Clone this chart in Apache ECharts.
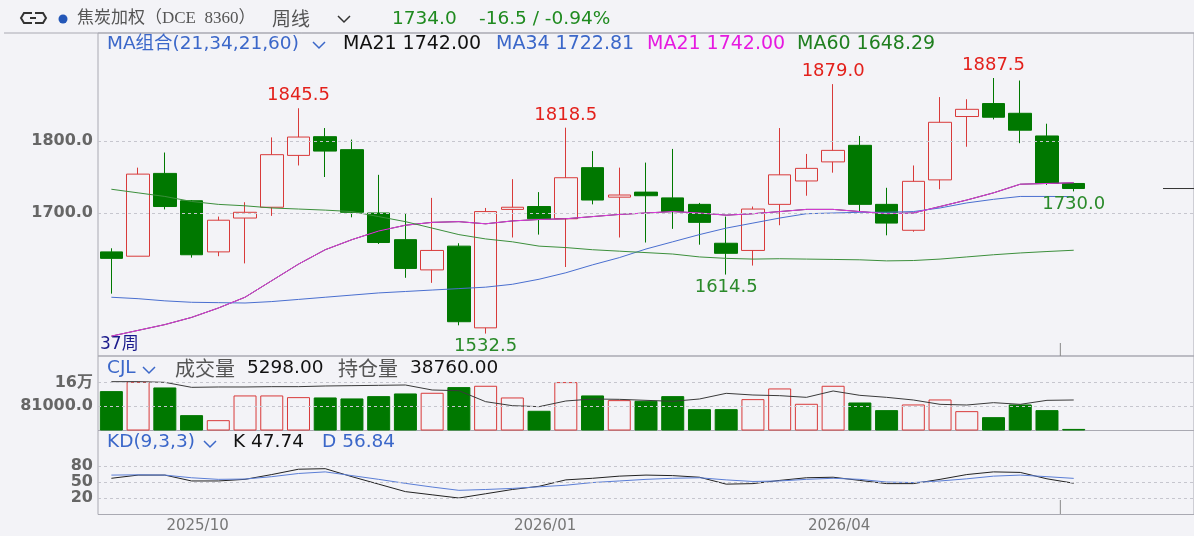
<!DOCTYPE html>
<html>
<head>
<meta charset="utf-8">
<script src="https://cdn.jsdelivr.net/npm/echarts@6/dist/echarts.min.js"></script>
<style>
  html, body { margin: 0; padding: 0; background: #f3f3f7; }
  #chart { width: 1194px; height: 536px; }
</style>
</head>
<body>
<div id="chart"></div>
<script>
// weekly bars, dated by last trading day of the week
const weeks = [
  "2025-09-19", "2025-09-26", "2025-09-30", "2025-10-10", "2025-10-17", "2025-10-24",
  "2025-10-31", "2025-11-07", "2025-11-14", "2025-11-21", "2025-11-28", "2025-12-05",
  "2025-12-12", "2025-12-19", "2025-12-26", "2025-12-31", "2026-01-09", "2026-01-16",
  "2026-01-23", "2026-01-30", "2026-02-06", "2026-02-13", "2026-02-27", "2026-03-06",
  "2026-03-13", "2026-03-20", "2026-03-27", "2026-04-03", "2026-04-10", "2026-04-17",
  "2026-04-24", "2026-04-30", "2026-05-08", "2026-05-15", "2026-05-22", "2026-05-29",
  "2026-06-05"
];
// [open, close, low, high]
const candles = [
  [1646, 1637, 1588, 1651], [1640, 1754, 1640, 1763], [1755, 1709, 1705, 1784],
  [1717, 1642, 1638, 1718], [1646, 1690, 1640, 1695], [1693, 1701, 1630, 1715],
  [1708, 1781, 1696, 1805], [1780, 1805.5, 1766, 1845.5], [1806, 1786, 1750, 1818],
  [1788, 1701, 1694, 1802], [1700, 1659, 1657, 1753], [1663, 1623, 1610, 1700],
  [1621, 1648, 1603, 1721], [1654, 1549, 1544, 1658], [1540.5, 1702, 1532.5, 1707],
  [1705, 1708, 1666, 1747], [1709, 1692, 1670, 1729], [1692, 1749, 1625, 1818.5],
  [1763, 1718, 1712, 1786], [1722, 1725, 1666, 1763], [1729, 1724, 1659, 1770],
  [1721, 1702, 1678, 1789], [1712, 1687, 1656, 1714], [1658, 1644, 1614.5, 1695],
  [1648, 1705.5, 1627, 1709], [1712, 1753, 1683, 1818], [1744.5, 1762, 1724, 1782],
  [1771, 1787, 1756, 1879], [1794, 1712, 1702, 1807], [1712, 1686, 1669, 1735],
  [1676, 1744, 1674, 1766], [1746, 1826, 1733, 1861], [1834, 1844, 1792, 1858],
  [1852, 1833, 1830, 1887.5], [1838.5, 1815, 1797, 1884], [1807, 1741, 1739, 1824],
  [1741, 1734, 1730, 1741]
];
const volumes = [
  131100, 162200, 143300, 51100, 34400, 116700, 116700, 111100, 110000, 106700,
  114400, 123300, 125600, 144400, 148900, 110000, 65600, 161100, 116700, 101100,
  98900, 114400, 71100, 71100, 104400, 140000, 88900, 148900, 93300, 67800,
  86700, 103300, 64400, 44400, 86700, 67800, 5298
];
const openInterest = [
  62050, 62050, 61200, 54860, 55280, 55280, 55700, 55700, 56550, 56970,
  57400, 57820, 51470, 50610, 36640, 31550, 30280, 37490, 40030, 39610,
  38340, 37070, 40030, 47230, 45110, 44260, 42150, 50200, 44690, 42150,
  38760, 33250, 32400, 35370, 33250, 38340, 38760
];
const ma21 = [
  1529, 1537, 1545, 1555, 1568, 1583, 1606, 1629, 1649, 1663,
  1675, 1683, 1687, 1688, 1685, 1689, 1691, 1692, 1695, 1698,
  1700, 1702, 1700, 1697, 1699, 1702, 1705, 1705, 1702, 1699,
  1700, 1709, 1718, 1728, 1740, 1741, 1742
];
const ma34 = [
  1583, 1581, 1578, 1576, 1575.5, 1575, 1577, 1580, 1583, 1586,
  1589, 1591, 1593, 1595, 1597, 1601, 1608, 1617, 1628, 1638,
  1650, 1660, 1670, 1679, 1686, 1693, 1699, 1700, 1701, 1701,
  1702, 1707, 1714, 1719, 1723, 1723, 1722.81
];
const ma60 = [
  1733, 1728, 1723, 1716, 1712, 1710, 1707, 1705.5, 1704, 1702,
  1695, 1688, 1679, 1670, 1664, 1660, 1654, 1652, 1649, 1647,
  1645, 1643, 1639, 1637, 1636, 1636.5, 1636, 1635.5, 1635, 1633.5,
  1634, 1636, 1639, 1642, 1644.5, 1646.5, 1648.29
];
const kLine = [
  57, 63, 63, 52, 52, 55, 64, 74, 75, 60,
  46, 32, 26, 20, 28, 36, 42, 54, 57, 61,
  63, 62, 59, 46, 47, 53, 58, 59, 53, 47,
  47, 55, 64, 69, 68, 56, 47.74
];
const dLine = [
  63, 63.5, 63, 58, 55, 55.6, 60, 66, 69, 62,
  55, 47.5, 40.6, 34.4, 36, 38, 41, 44, 49, 52,
  55, 57, 58, 54, 51, 52, 55, 57, 55, 50,
  49, 52, 56, 61, 63, 60, 56.84
];
const priceTicks = [1700, 1800];
const volumeTicks = [81000, 160000];
const kdTicks = [20, 50, 80];
const highMarks = [7, 17, 27, 33];
const lowMarks = [14, 23, 36];

const bg = "#f3f3f7";
const upColor = "#d83a3a";
const downColor = "#007800";
const font = '"DejaVu Sans", "Noto Sans CJK SC", sans-serif';
const cjk = '"Noto Sans CJK SC", sans-serif';
const categories = weeks.concat(["pad1", "pad2", "pad3", "pad4"]);
const isUp = (i) => candles[i][1] >= candles[i][0];

const chart = echarts.init(document.getElementById("chart"));

function gridLines(values) {
  return {
    silent: true,
    symbol: "none",
    animation: false,
    label: { show: false },
    lineStyle: { color: "#c6c6ce", type: [3, 3], width: 1 },
    data: values.map((v) => ({ yAxis: v })),
  };
}

function xAxisFor(gridIndex, showLabel) {
  return {
    type: "category",
    gridIndex: gridIndex,
    data: categories,
    boundaryGap: true,
    axisLine: { show: false },
    axisTick: { show: false },
    splitLine: { show: false },
    axisLabel: {
      show: showLabel,
      color: "#777",
      fontSize: 15,
      fontFamily: font,
      margin: 4,
      padding: [0, 0, 0, 12],
      interval: (idx, val) => {
        if (!/^\d{4}-/.test(val)) return false;
        const m = val.slice(5, 7);
        const prev = idx > 0 ? categories[idx - 1].slice(5, 7) : "";
        return ["01", "04", "07", "10"].includes(m) && prev !== m;
      },
      formatter: (val) => val.slice(0, 7).replace("-", "/"),
    },
  };
}

function yLabel(values, fmt) {
  return {
    customValues: values,
    formatter: fmt,
    color: "#666",
    fontSize: 16,
    fontWeight: "bold",
    fontFamily: font,
    margin: 5,
  };
}

const gridStyle = { show: true, borderColor: "#a9a9b2", borderWidth: 1, backgroundColor: "transparent" };

const option = {
  backgroundColor: bg,
  animation: false,
  grid: [
    Object.assign({ left: 98, top: 33, width: 1107, height: 323 }, gridStyle),
    Object.assign({ left: 98, top: 356, width: 1107, height: 74.5 }, gridStyle),
    Object.assign({ left: 98, top: 430.5, width: 1107, height: 84 }, gridStyle),
  ],
  xAxis: [xAxisFor(0, false), xAxisFor(1, false), xAxisFor(2, true)],
  yAxis: [
    {
      gridIndex: 0, min: 1501.4, max: 1950,
      axisLine: { show: false }, axisTick: { show: false }, splitLine: { show: false },
      axisLabel: yLabel(priceTicks, (v) => v.toFixed(1)),
    },
    {
      gridIndex: 1, min: 0, max: 248000,
      axisLine: { show: false }, axisTick: { show: false }, splitLine: { show: false },
      axisLabel: yLabel(volumeTicks, (v) => (v >= 100000 ? v / 10000 + "万" : v.toFixed(1))),
    },
    {
      gridIndex: 1, min: 0, max: 94670, show: false,
    },
    {
      gridIndex: 2, min: -10.9, max: 146.6,
      axisLine: { show: false }, axisTick: { show: false }, splitLine: { show: false },
      axisLabel: yLabel(kdTicks, (v) => String(v)),
    },
  ],
  series: [
    {
      name: "K线",
      type: "candlestick",
      xAxisIndex: 0,
      yAxisIndex: 0,
      barWidth: 23,
      data: candles,
      itemStyle: {
        color: bg,
        color0: downColor,
        borderColor: upColor,
        borderColor0: downColor,
        borderWidth: 1,
      },
      markLine: gridLines(priceTicks),
      markPoint: {
        symbol: "circle",
        symbolSize: 1,
        silent: true,
        itemStyle: { color: "rgba(0,0,0,0)" },
        label: {
          fontSize: 18,
          fontFamily: font,
          distance: 3,
          formatter: (p) => Number(p.value).toFixed(1),
        },
        data: highMarks
          .map((i) => ({
            coord: [i, candles[i][3]],
            value: candles[i][3],
            label: { position: "top", color: "#e3211c" },
          }))
          .concat(
            lowMarks.map((i) => ({
              coord: [i, candles[i][2]],
              value: candles[i][2],
              label: { position: "bottom", color: "#2a8a2a" },
            }))
          ),
      },
    },
    { name: "MA21", type: "line", data: ma21, xAxisIndex: 0, yAxisIndex: 0, symbol: "none",
      lineStyle: { color: "#222", width: 1 } },
    { name: "MA34", type: "line", data: ma34, xAxisIndex: 0, yAxisIndex: 0, symbol: "none",
      lineStyle: { color: "#4a6fd0", width: 1 } },
    { name: "MA21b", type: "line", data: ma21, xAxisIndex: 0, yAxisIndex: 0, symbol: "none",
      lineStyle: { color: "#e23be0", width: 1 } },
    { name: "MA60", type: "line", data: ma60, xAxisIndex: 0, yAxisIndex: 0, symbol: "none",
      lineStyle: { color: "#3c8f3c", width: 1 } },
    {
      name: "成交量",
      type: "bar",
      xAxisIndex: 1,
      yAxisIndex: 1,
      barWidth: 23,
      data: volumes.map((v, i) => ({
        value: v,
        itemStyle: isUp(i)
          ? { color: bg, borderColor: upColor, borderWidth: 1 }
          : { color: downColor, borderColor: downColor, borderWidth: 1 },
      })),
      markLine: gridLines(volumeTicks),
    },
    { name: "持仓量", type: "line", data: openInterest, xAxisIndex: 1, yAxisIndex: 2, symbol: "none",
      lineStyle: { color: "#3a3a3a", width: 1 } },
    { name: "K", type: "line", data: kLine, xAxisIndex: 2, yAxisIndex: 3, symbol: "none",
      lineStyle: { color: "#222", width: 1 }, markLine: gridLines(kdTicks) },
    { name: "D", type: "line", data: dLine, xAxisIndex: 2, yAxisIndex: 3, symbol: "none",
      lineStyle: { color: "#5b7ed6", width: 1 } },
  ],
};

chart.setOption(option);

// header texts and decorations
function txt(x, y, text, fill, size, family, weight) {
  return {
    type: "text", x: x, y: y, silent: true,
    style: {
      text: text, fill: fill,
      font: (weight || "normal") + " " + size + "px " + (family || font),
      textVerticalAlign: "middle", verticalAlign: "middle",
    },
  };
}
function chevron(x, y, color) {
  return {
    type: "polyline", silent: true,
    shape: { points: [[x, y - 3], [x + 6, y + 3], [x + 12, y - 3]] },
    style: { stroke: color, lineWidth: 1.5, fill: null },
  };
}
const blue = "#3b67c9";
const lastIdx = candles.length - 1;
const yLast = chart.convertToPixel({ yAxisIndex: 0 }, candles[lastIdx][1]);
const xSep = (chart.convertToPixel({ xAxisIndex: 0 }, lastIdx - 1) +
  chart.convertToPixel({ xAxisIndex: 0 }, lastIdx)) / 2;

chart.setOption({
  graphic: [
    { type: "line", silent: true, shape: { x1: 4, y1: 33, x2: 1194, y2: 33 }, style: { stroke: "#a9a9b2", lineWidth: 1 } },
    // back icon
    { type: "polyline", silent: true, shape: { points: [[32, 13], [24, 13], [21, 18], [24, 23], [32, 23]] },
      style: { stroke: "#333", lineWidth: 2, fill: null } },
    { type: "polyline", silent: true, shape: { points: [[30, 18], [36, 18]] }, style: { stroke: "#333", lineWidth: 2 } },
    { type: "polyline", silent: true, shape: { points: [[35, 13], [43, 13], [46, 18], [43, 23], [35, 23]] },
      style: { stroke: "#333", lineWidth: 2, fill: null } },
    { type: "circle", silent: true, shape: { cx: 63, cy: 19, r: 4.5 }, style: { fill: "#2457b8" } },
    txt(77, 19, "焦炭加权（DCE  8360）", "#555", 17, '"Liberation Serif", "Noto Sans CJK SC", serif'),
    txt(272, 19, "周线", "#555", 19, cjk),
    chevron(338, 19, "#333"),
    txt(392, 19, "1734.0", "#1f8a1f", 18.5),
    txt(479, 19, "-16.5 / -0.94%", "#1f8a1f", 18.5),

    txt(107, 44, "MA组合(21,34,21,60)", blue, 18.5),
    chevron(313, 45, blue),
    txt(343, 44, "MA21 1742.00", "#111", 19),
    txt(496, 44, "MA34 1722.81", blue, 19),
    txt(647, 44, "MA21 1742.00", "#e619e0", 19),
    txt(797, 44, "MA60 1648.29", "#1f7f1f", 19),

    txt(100, 345, "37周", "#1a1a8c", 17),

    txt(107, 368, "CJL", blue, 18.5),
    chevron(143, 370, blue),
    txt(175, 368, "成交量", "#555", 20, cjk),
    txt(247, 368, "5298.00", "#111", 18.5),
    txt(338, 368, "持仓量", "#555", 20, cjk),
    txt(410, 368, "38760.00", "#111", 18.5),

    txt(107, 442, "KD(9,3,3)", blue, 18.5),
    chevron(204, 444, blue),
    txt(233, 442, "K 47.74", "#111", 18.5),
    txt(322, 442, "D 56.84", blue, 18.5),

    // last price marker and week separator ticks
    { type: "line", silent: true, shape: { x1: 1163, y1: yLast, x2: 1194, y2: yLast }, style: { stroke: "#333", lineWidth: 1 } },
    { type: "line", silent: true, shape: { x1: xSep, y1: 343, x2: xSep, y2: 356 }, style: { stroke: "#888", lineWidth: 1 } },
    { type: "line", silent: true, shape: { x1: xSep, y1: 500, x2: xSep, y2: 514 }, style: { stroke: "#888", lineWidth: 1 } },
  ],
});
</script>
</body>
</html>
